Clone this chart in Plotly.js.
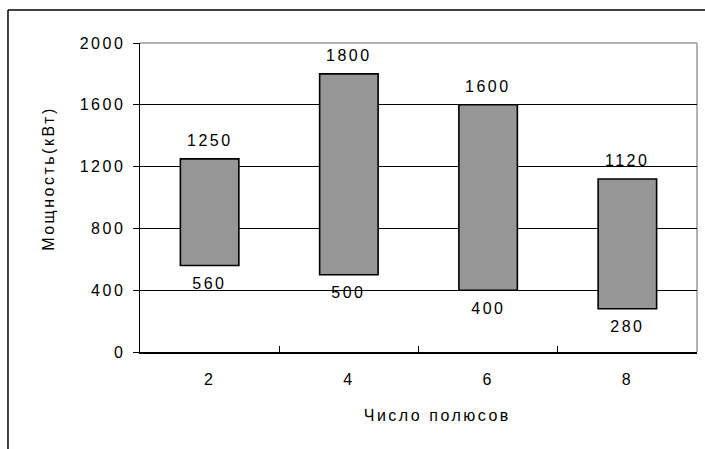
<!DOCTYPE html>
<html>
<head>
<meta charset="utf-8">
<script src="https://cdn.plot.ly/plotly-3.0.1.min.js"></script>
<style>
html,body{margin:0;padding:0;background:#fff}
#chart{width:705px;height:449px}
#chart svg text{letter-spacing:2.5px}
</style>
</head>
<body>
<div id="chart"></div>
<script>
const categories = ['2', '4', '6', '8'];
const lowValues = [560, 500, 400, 280];
const highValues = [1250, 1800, 1600, 1120];
const yTicks = [0, 400, 800, 1200, 1600, 2000];
const xTitle = 'Число полюсов';
const yTitle = 'Мощность(кВт)';

const FONT = 'Liberation Sans, Arial, sans-serif';
const FS = 16;

const barTrace = {
  type: 'bar',
  x: categories,
  base: lowValues,
  y: highValues.map((h, i) => h - lowValues[i]),
  width: 0.42,
  marker: {color: '#969696', line: {color: '#000', width: 1.6}},
  hoverinfo: 'skip'
};

const annotations = [];
categories.forEach((c, i) => {
  annotations.push({xref: 'x', yref: 'y', x: i, y: highValues[i], text: String(highValues[i]),
    showarrow: false, yshift: 18, xanchor: 'center', yanchor: 'middle',
    font: {family: FONT, size: FS, color: '#000'}});
  annotations.push({xref: 'x', yref: 'y', x: i, y: lowValues[i], text: String(lowValues[i]),
    showarrow: false, yshift: -18, xanchor: 'center', yanchor: 'middle',
    font: {family: FONT, size: FS, color: '#000'}});
});
annotations.push({xref: 'paper', yref: 'paper', x: 0.535, y: -0.205, text: xTitle,
  xanchor: 'center', yanchor: 'middle',
  showarrow: false, font: {family: FONT, size: FS, color: '#000'}});
annotations.push({xref: 'paper', yref: 'paper', x: -0.164, y: 0.56, text: yTitle, textangle: -90,
  xanchor: 'center', yanchor: 'middle',
  showarrow: false, font: {family: FONT, size: FS, color: '#000'}});

const layout = {
  width: 705, height: 449,
  margin: {l: 140, r: 8, t: 43, b: 97},
  paper_bgcolor: '#fff', plot_bgcolor: '#fff',
  showlegend: false,
  font: {family: FONT, size: FS, color: '#000'},
  xaxis: {
    type: 'category', categoryarray: categories, range: [-0.5, 3.5],
    showline: true, linecolor: '#000', linewidth: 1.5,
    ticks: 'inside', tickson: 'boundaries', ticklen: 6, tickcolor: '#000', tickwidth: 1,
    showgrid: false, zeroline: false, ticklabelstandoff: 12,
    tickfont: {family: FONT, size: FS, color: '#000'}
  },
  yaxis: {
    range: [0, 2000], tickvals: yTicks,
    showline: true, linecolor: '#000', linewidth: 1.5,
    ticks: 'outside', ticklen: 6, tickcolor: '#000', tickwidth: 1,
    showgrid: true, gridcolor: '#000', gridwidth: 1, zeroline: false,
    ticklabelstandoff: 4,
    tickfont: {family: FONT, size: FS, color: '#000'}
  },
  shapes: [
    {type: 'line', xref: 'paper', yref: 'paper', x0: 0, x1: 1, y0: 1, y1: 1,
      line: {color: '#999', width: 1.5}, layer: 'below'},
    {type: 'line', xref: 'paper', yref: 'paper', x0: 1, x1: 1, y0: 0, y1: 1,
      line: {color: '#999', width: 1.5}, layer: 'below'},
    {type: 'line', xref: 'paper', yref: 'paper', x0: -0.237, x1: 1.05, y0: 1.107, y1: 1.107,
      line: {color: '#000', width: 1.5}},
    {type: 'line', xref: 'paper', yref: 'paper', x0: -0.237, x1: -0.237, y0: -0.35, y1: 1.107,
      line: {color: '#000', width: 1.5}}
  ],
  annotations: annotations
};

Plotly.newPlot('chart', [barTrace], layout, {displayModeBar: false, staticPlot: true});
</script>
</body>
</html>
